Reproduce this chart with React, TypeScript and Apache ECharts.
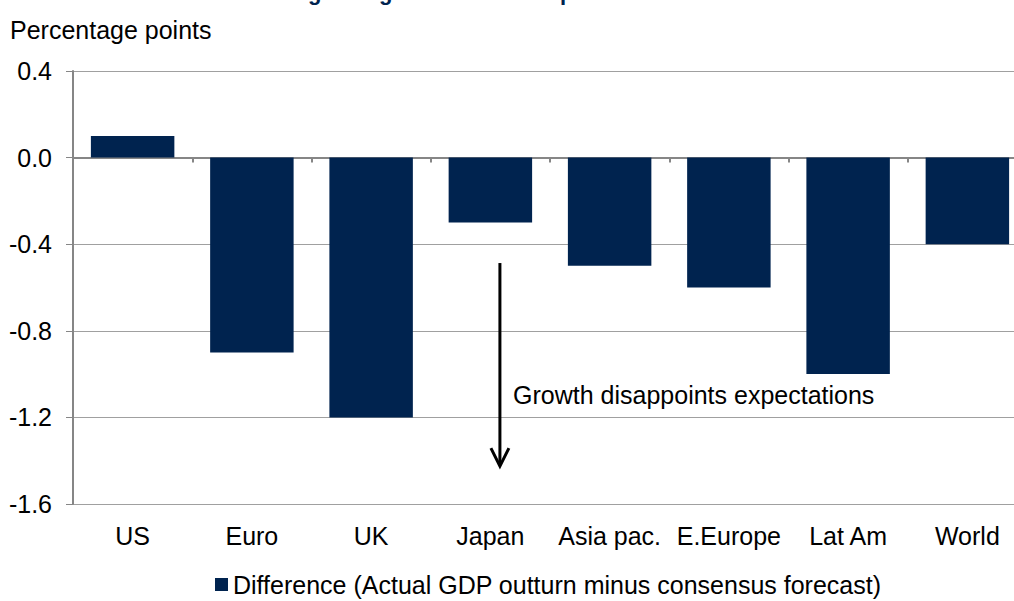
import React, { useEffect, useRef } from 'react';
import * as echarts from 'echarts';

const categories = ['US', 'Euro', 'UK', 'Japan', 'Asia pac.', 'E.Europe', 'Lat Am', 'World'];
const difference = [0.1, -0.9, -1.2, -0.3, -0.5, -0.6, -1.0, -0.4];
const yMin = -1.6;
const yMax = 0.4;
const yStep = 0.4;
const seriesName = 'Difference (Actual GDP outturn minus consensus forecast)';
const titleText = 'Regional growth versus expectations';
const unitLabel = 'Percentage points';
const annotationText = 'Growth disappoints expectations';
// annotation anchors in data space [category index (fractional), value]
const arrowStart = [3.08, -0.487];
const arrowEnd = [3.08, -1.425];
const annotationAnchor = [3.19, -1.095];

const FONT = "'Liberation Sans', Arial, sans-serif";
const FS = 25;
const NAVY = '#00234F';
const GRID = '#A0A0A0';
const AXIS = '#868686';

export default function App() {
  const ref = useRef<HTMLDivElement>(null);
  useEffect(() => {
    if (!ref.current) return;
    const chart = echarts.init(ref.current, null, { renderer: 'svg' });
    chart.setOption({
      animation: false,
      backgroundColor: '#fff',
      textStyle: { fontFamily: FONT },
      grid: { left: 73, right: -13, top: 71, bottom: 97, containLabel: false, outerBoundsMode: 'none' },
      legend: {
        data: [seriesName],
        icon: 'rect',
        itemWidth: 13,
        itemHeight: 13,
        left: 215,
        top: 572,
        padding: 0,
        textStyle: { fontSize: FS, color: '#000', fontFamily: FONT },
      },
      xAxis: [
        {
          type: 'category',
          data: categories,
          axisLine: { onZero: true, lineStyle: { color: AXIS, width: 2 } },
          axisTick: { show: true, length: 5, lineStyle: { color: AXIS, width: 2 } },
          axisLabel: { show: false },
          splitLine: { show: false },
        },
        {
          type: 'category',
          data: categories,
          position: 'bottom',
          axisLine: { show: false, onZero: false },
          axisTick: { show: false },
          axisLabel: { interval: 0, fontSize: FS, color: '#000', margin: 19, fontFamily: FONT },
          splitLine: { show: false },
        },
      ],
      yAxis: {
        type: 'value',
        min: yMin,
        max: yMax,
        interval: yStep,
        axisLine: { show: true, lineStyle: { color: AXIS, width: 2 } },
        axisTick: { show: true, length: 7, lineStyle: { color: AXIS, width: 1 } },
        axisLabel: {
          fontSize: FS,
          color: '#000',
          margin: 21,
          fontFamily: FONT,
          formatter: (v: number) => v.toFixed(1),
        },
        splitLine: { show: true, lineStyle: { color: GRID, width: 1 } },
      },
      series: [
        {
          name: seriesName,
          type: 'bar',
          xAxisIndex: 0,
          data: difference,
          barWidth: '70%',
          itemStyle: { color: NAVY },
        },
      ],
    });

    const toPx = (d: number[]) => {
      const i = Math.floor(d[0]);
      const a = chart.convertToPixel({ gridIndex: 0 }, [i, d[1]]) as number[];
      const b = chart.convertToPixel({ gridIndex: 0 }, [i + 1, d[1]]) as number[];
      const f = d[0] - i;
      return [a[0] + (b[0] - a[0]) * f, a[1]];
    };
    const p0 = toPx(arrowStart);
    const p1 = toPx(arrowEnd);
    const pt = toPx(annotationAnchor);

    chart.setOption({
      graphic: [
        {
          type: 'text',
          x: 280,
          y: -8,
          style: {
            text: titleText,
            fontSize: 22,
            fontWeight: 'bold',
            fill: NAVY,
            fontFamily: FONT,
            textAlign: 'left',
            textVerticalAlign: 'middle',
          },
        },
        {
          type: 'text',
          x: 10,
          y: 30,
          style: {
            text: unitLabel,
            fontSize: FS,
            fill: '#000',
            fontFamily: FONT,
            textAlign: 'left',
            textVerticalAlign: 'middle',
          },
        },
        {
          type: 'line',
          shape: { x1: p0[0], y1: p0[1], x2: p1[0], y2: p1[1] - 1 },
          style: { stroke: '#000', lineWidth: 3 },
        },
        {
          type: 'polyline',
          shape: {
            points: [
              [p1[0] - 9, p1[1] - 18],
              [p1[0], p1[1]],
              [p1[0] + 9, p1[1] - 18],
            ],
          },
          style: { stroke: '#000', lineWidth: 3, fill: null },
        },
        {
          type: 'text',
          x: pt[0],
          y: pt[1],
          style: {
            text: annotationText,
            fontSize: FS,
            fill: '#000',
            fontFamily: FONT,
            textAlign: 'left',
            textVerticalAlign: 'middle',
          },
        },
      ],
    });

    return () => chart.dispose();
  }, []);

  return <div ref={ref} style={{ width: 1014, height: 601, position: 'absolute', left: 0, top: 0 }} />;
}
